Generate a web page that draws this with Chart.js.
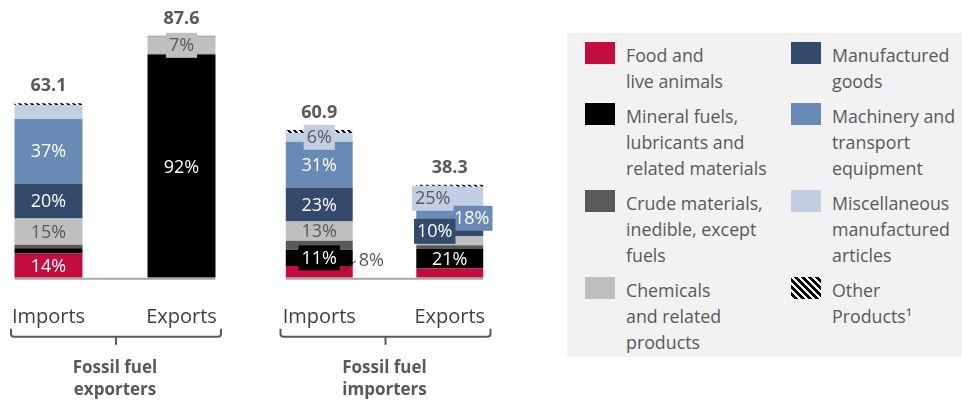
<!DOCTYPE html>
<html><head><meta charset="utf-8">
<script src="https://cdn.jsdelivr.net/npm/chart.js@4/dist/chart.umd.min.js"></script>
<style>
html,body{margin:0;padding:0;background:#fff;width:962px;height:401px;overflow:hidden;position:relative;font-family:"Open Sans",sans-serif;}
.chartbox{position:absolute;top:0;height:401px;}
#boxA{left:-18px;width:266px;}
#boxB{left:254px;width:261px;}
#legend{position:absolute;left:567px;top:33px;width:395px;height:324px;background:#F2F2F2;box-sizing:border-box;padding:9px 0 0 18px;display:grid;grid-template-columns:206px auto;grid-template-rows:repeat(4,auto);grid-auto-flow:column;row-gap:9px;align-content:start;}
.item{display:flex;align-items:flex-start;}
.sw{width:30px;height:22px;flex:none;margin-right:11px;}
.tx{font-size:17.8px;line-height:26px;color:#595959;white-space:pre-line;}
</style>
</head><body>
<div class="chartbox" id="boxA"><canvas id="cA" width="266" height="401"></canvas></div>
<div class="chartbox" id="boxB"><canvas id="cB" width="261" height="401"></canvas></div>
<div id="legend"></div>
<script>
// ---- data ----
const categories = ["Food and\nlive animals", "Mineral fuels,\nlubricants and\nrelated materials", "Crude materials,\ninedible, except\nfuels", "Chemicals\nand related\nproducts", "Manufactured\ngoods", "Machinery and\ntransport\nequipment", "Miscellaneous\nmanufactured\narticles", "Other\nProducts\u00B9"];
const flowLabels = ["Imports", "Exports"];
const groupExporters = ["Fossil fuel", "exporters"];
const groupImporters = ["Fossil fuel", "importers"];
const totalsExporters = [63.1, 87.6];
const totalsImporters = [60.9, 38.3];
// shares (%) per category, in category order
const sharesExpImports = [14, 3, 2, 15, 20, 37, 8, 1];
const sharesExpExports = [0, 92, 0.5, 7, 0, 0.5, 0, 0];
const sharesImpImports = [8, 11, 6, 13, 23, 31, 6, 2];
const sharesImpExports = [10, 21, 4, 10, 10, 18, 25, 2];
// category indices whose share is printed
const shownExpImports = [0, 3, 4, 5];
const shownExpExports = [1, 3];
const shownImpImports = [0, 1, 3, 4, 5, 6];
const shownImpExports = [1, 5, 4, 6];

// ---- styles ----
const FONT = '"Open Sans", sans-serif';
function stripePattern() {
  const c = document.createElement('canvas'); c.width = 6; c.height = 6;
  const g = c.getContext('2d');
  g.fillStyle = '#fff'; g.fillRect(0, 0, 6, 6);
  g.strokeStyle = '#000'; g.lineWidth = 2;
  g.beginPath(); g.moveTo(0, 0); g.lineTo(6, 6); g.moveTo(-3, 3); g.lineTo(3, 9); g.moveTo(3, -3); g.lineTo(9, 3); g.stroke();
  return c;
}
const patCanvas = stripePattern();
const colors = ['#C30D3F', '#000000', '#595959', '#BFBFBF', '#344A6D', '#6A8AB6', '#C2CEE1', null];
const lightCats = [3, 6];
// label layout tweaks: key "bar:cat"
const styleA = {'1:3': {box: true}};
const styleB = {'0:1': {box: true}, '0:6': {box: true}, '0:0': {outside: true},
  '1:6': {box: true, dx: -17}, '1:5': {box: true, dx: 22}, '1:4': {box: true, dx: -15}};

// ---- legend (HTML) ----
const leg = document.getElementById('legend');
categories.forEach((name, i) => {
  const it = document.createElement('div'); it.className = 'item';
  const sw = document.createElement('div'); sw.className = 'sw';
  sw.style.background = colors[i] || 'repeating-linear-gradient(45deg,#fff 0 2.5px,#000 2.5px 5px)';
  const tx = document.createElement('div'); tx.className = 'tx'; tx.textContent = name;
  it.appendChild(sw); it.appendChild(tx); leg.appendChild(it);
});

const segPlugin = {
  id: 'segLabels',
  afterDatasetsDraw(chart) {
    const o = chart.options.plugins.segLabels;
    const ctx = chart.ctx;
    const yS = chart.scales.y;
    const bars = chart.getDatasetMeta(0).data;
    const first = bars[0], last = bars[bars.length - 1];
    const bottom = chart.chartArea.bottom;
    ctx.save();
    // baseline
    ctx.strokeStyle = '#A6A6A6'; ctx.lineWidth = 2;
    ctx.beginPath(); ctx.moveTo(first.x - first.width / 2, bottom + 1); ctx.lineTo(last.x + last.width / 2, bottom + 1); ctx.stroke();
    // segment labels
    ctx.font = '18px ' + FONT; ctx.textBaseline = 'middle';
    o.shown.forEach((list, j) => {
      list.forEach(c => {
        const el = chart.getDatasetMeta(c).data[j];
        const st = o.style[j + ':' + c] || {};
        const txt = o.shares[j][c] + '%';
        const cy = (el.y + el.base) / 2;
        const tcol = lightCats.includes(c) ? '#595959' : '#FFFFFF';
        if (st.outside) {
          const r = el.x + el.width / 2;
          ctx.strokeStyle = '#262626'; ctx.lineWidth = 1;
          ctx.beginPath(); ctx.moveTo(r - 9, cy - 1); ctx.lineTo(r + 3, cy - 11); ctx.stroke();
          ctx.fillStyle = '#595959'; ctx.textAlign = 'left';
          ctx.fillText(txt, r + 6, cy - 11);
          return;
        }
        const cx = el.x + (st.dx || 0);
        if (st.box) {
          const w = ctx.measureText(txt).width + 6;
          ctx.fillStyle = colors[c];
          ctx.fillRect(cx - w / 2, cy - 12.5, w, 25);
        }
        ctx.fillStyle = tcol; ctx.textAlign = 'center';
        ctx.fillText(txt, cx, cy + 1);
      });
    });
    // totals
    ctx.font = 'bold 18px ' + FONT; ctx.fillStyle = '#595959'; ctx.textAlign = 'center';
    o.totals.forEach((t, j) => {
      ctx.fillText(t.toFixed(1), bars[j].x, yS.getPixelForValue(t) - 17);
    });
    // bracket
    const cxm = (first.x + last.x) / 2 + 1;
    const l = cxm - 105, r = cxm + 105, by = bottom + 59;
    ctx.strokeStyle = '#595959'; ctx.lineWidth = 2;
    ctx.beginPath();
    ctx.moveTo(l, by - 8); ctx.lineTo(l, by - 3); ctx.quadraticCurveTo(l, by, l + 3, by);
    ctx.lineTo(r - 3, by); ctx.quadraticCurveTo(r, by, r, by - 3); ctx.lineTo(r, by - 8);
    ctx.moveTo(cxm, by); ctx.lineTo(cxm, by + 8);
    ctx.stroke();
    ctx.restore();
  }
};

function makeChart(id, totals, shares, shown, style, group, yMax, padTop, barPct) {
  const pattern = document.createElement('canvas').getContext('2d').createPattern(patCanvas, 'repeat');
  const datasets = categories.map((name, c) => ({
    label: name,
    data: shares.map((s, j) => s[c] * totals[j] / 100),
    backgroundColor: colors[c] || pattern,
    borderWidth: 0,
    barPercentage: barPct,
    categoryPercentage: 1
  }));
  return new Chart(document.getElementById(id), {
    type: 'bar',
    data: {labels: flowLabels, datasets},
    plugins: [segPlugin],
    options: {
      responsive: false, animation: false, devicePixelRatio: 1,
      layout: {padding: {top: padTop, left: 0, right: 0, bottom: 0}},
      plugins: {legend: {display: false}, tooltip: {enabled: false},
        segLabels: {totals, shares, shown, style}},
      scales: {
        x: {stacked: true, grid: {display: false, drawTicks: false}, border: {display: false},
          ticks: {font: {family: FONT, size: 20}, color: '#404040', padding: 27},
          title: {display: true, text: group, color: '#595959', font: {family: FONT, size: 17, weight: 'bold', lineHeight: 1.3}, padding: {top: 1, bottom: 0}}},
        y: {stacked: true, display: false, min: 0, max: yMax}
      }
    }
  });
}

makeChart('cA', totalsExporters, [sharesExpImports, sharesExpExports], [shownExpImports, shownExpExports], styleA, groupExporters, 90, 29, 0.511);
makeChart('cB', totalsImporters, [sharesImpImports, sharesImpExports], [shownImpImports, shownImpExports], styleB, groupImporters, 100, 35, 0.513);
</script>
</body></html>
